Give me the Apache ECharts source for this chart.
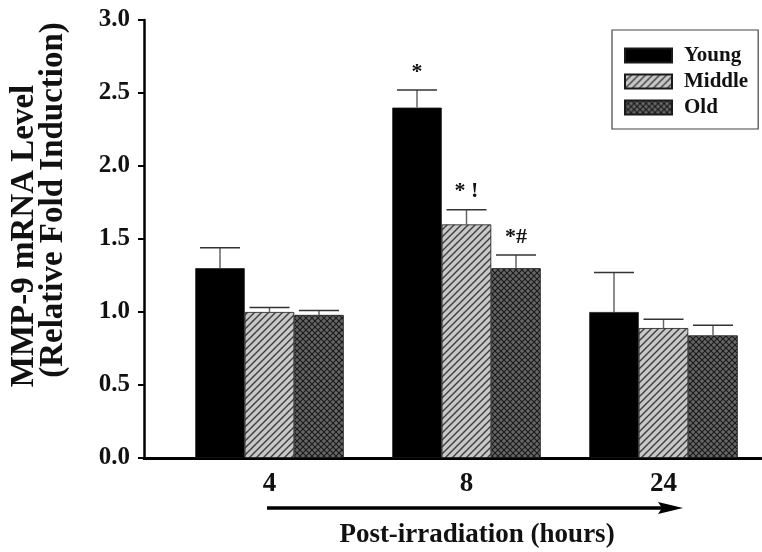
<!DOCTYPE html>
<html>
<head>
<meta charset="utf-8">
<script src="https://cdn.jsdelivr.net/npm/echarts@6/dist/echarts.min.js"></script>
<style>html,body{margin:0;padding:0;background:#fff}#c{width:762px;height:552px}</style>
</head>
<body>
<div id="c"></div>
<script>
// ---- data ----
const categories = ['4', '8', '24'];
const seriesNames = ['Young', 'Middle', 'Old'];
const young = [1.30, 2.40, 1.00];
const middle = [1.00, 1.60, 0.89];
const old = [0.98, 1.30, 0.84];
const youngErr = [0.14, 0.12, 0.27];
const middleErr = [0.03, 0.10, 0.06];
const oldErr = [0.03, 0.09, 0.07];
const youngMarks = ['', '*', ''];
const middleMarks = ['', '* !', ''];
const oldMarks = ['', '*#', ''];
const yMin = 0, yMax = 3, yStep = 0.5;
const yTitle = ['MMP-9 mRNA Level', '(Relative Fold Induction)'];
const xTitle = 'Post-irradiation (hours)';

// ---- patterns ----
function hatch() {
  const s = 7, c = document.createElement('canvas');
  c.width = s; c.height = s;
  const g = c.getContext('2d');
  g.fillStyle = '#c8c8c8'; g.fillRect(0, 0, s, s);
  g.strokeStyle = '#3c3c3c'; g.lineWidth = 1.4;
  g.beginPath();
  g.moveTo(-1, s + 1); g.lineTo(s + 1, -1);
  g.moveTo(-1, 1); g.lineTo(1, -1);
  g.moveTo(s - 1, s + 1); g.lineTo(s + 1, s - 1);
  g.stroke();
  return { image: c, repeat: 'repeat' };
}
function cross() {
  const s = 6, c = document.createElement('canvas');
  c.width = s; c.height = s;
  const g = c.getContext('2d');
  g.fillStyle = '#666666'; g.fillRect(0, 0, s, s);
  g.strokeStyle = '#1a1a1a'; g.lineWidth = 1.1;
  g.beginPath();
  g.moveTo(0, 0); g.lineTo(s, s);
  g.moveTo(0, s); g.lineTo(s, 0);
  g.stroke();
  return { image: c, repeat: 'repeat' };
}
const fills = ['#000000', hatch(), cross()];
const values = [young, middle, old];
const errs = [youngErr, middleErr, oldErr];
const marks = [youngMarks, middleMarks, oldMarks];

const FONT = 'Liberation Serif';
const BAR_W = 49.5;

const chart = echarts.init(document.getElementById('c'), null, { renderer: 'canvas' });

const series = [];
seriesNames.forEach((name, k) => {
  series.push({
    name: name, type: 'bar', xAxisIndex: 1, yAxisIndex: 1,
    barWidth: BAR_W, barGap: '0%',
    itemStyle: { color: fills[k], borderColor: '#1a1a1a', borderWidth: 0.8 },
    data: values[k]
  });
});
seriesNames.forEach((name, k) => {
  series.push({
    name: name + ' error', type: 'custom', xAxisIndex: 1, yAxisIndex: 1, z: 5,
    data: categories.map((c, i) => [i, values[k][i], errs[k][i]]),
    renderItem: function (params, api) {
      const i = api.value(0), v = api.value(1), e = api.value(2);
      const mark = marks[k][i];
      const base = api.coord([i, v]);
      const top = api.coord([i, v + e]);
      const x = base[0] + (k - 1) * BAR_W;
      const children = [
        { type: 'line', shape: { x1: x, y1: base[1], x2: x, y2: top[1] }, style: { stroke: '#666', lineWidth: 1.5 } },
        { type: 'line', shape: { x1: x - 20, y1: top[1], x2: x + 20, y2: top[1] }, style: { stroke: '#333', lineWidth: 1.5 } }
      ];
      if (mark) {
        children.push({ type: 'text', style: { text: mark, x: x, y: top[1] - 7, textAlign: 'center', textVerticalAlign: 'bottom', font: 'bold 22px "' + FONT + '"', fill: '#111' } });
      }
      return { type: 'group', children: children };
    }
  });
});

const option = {
  animation: false,
  backgroundColor: '#fff',
  grid: [
    { left: 144, top: 20, width: 617, height: 438 },
    { left: 171, top: 20, width: 594, height: 438 }
  ],
  xAxis: [
    { type: 'value', gridIndex: 0, min: 0, max: 1, axisLine: { show: true, onZero: false, lineStyle: { color: '#000', width: 3 } },
      axisTick: { show: false }, axisLabel: { show: false }, splitLine: { show: false } },
    { type: 'category', gridIndex: 1, data: categories, axisLine: { show: false }, axisTick: { show: false },
      axisLabel: { margin: 13, color: '#111', fontFamily: FONT, fontWeight: 'bold', fontSize: 27 } }
  ],
  yAxis: [
    { type: 'value', gridIndex: 0, min: yMin, max: yMax, interval: yStep,
      axisLine: { show: true, lineStyle: { color: '#000', width: 2.5 } },
      axisTick: { show: true, length: 6, lineStyle: { color: '#000', width: 2 } },
      axisLabel: { margin: 14, color: '#111', fontFamily: FONT, fontWeight: 'bold', fontSize: 25, formatter: v => v.toFixed(1) },
      splitLine: { show: false } },
    { type: 'value', gridIndex: 1, min: yMin, max: yMax, interval: yStep, show: false }
  ],
  legend: {
    orient: 'vertical', left: 612, top: 30,
    data: seriesNames.map(n => ({ name: n, icon: 'rect' })),
    itemWidth: 47, itemHeight: 14, itemGap: 5,
    padding: [15, 10, 11, 12],
    borderColor: '#444', borderWidth: 1.2,
    textStyle: { fontFamily: FONT, fontWeight: 'bold', fontSize: 21, color: '#111', padding: [0, 0, 0, 7] }
  },
  graphic: [
    { type: 'text', x: 24, y: 236, rotation: Math.PI / 2,
      style: { text: yTitle[0], x: 0, y: 0, textAlign: 'center', textVerticalAlign: 'middle', font: 'bold 33px "' + FONT + '"', fill: '#111' } },
    { type: 'text', x: 53, y: 200, rotation: Math.PI / 2,
      style: { text: yTitle[1], x: 0, y: 0, textAlign: 'center', textVerticalAlign: 'middle', font: 'bold 33px "' + FONT + '"', fill: '#111' } },
    { type: 'line', shape: { x1: 267, y1: 508, x2: 664, y2: 508 }, style: { stroke: '#000', lineWidth: 3.5 } },
    { type: 'polygon', shape: { points: [[658, 502], [683, 508], [658, 514], [662, 508]] }, style: { fill: '#000' } },
    { type: 'text', x: 477, y: 535,
      style: { text: xTitle, x: 0, y: 0, textAlign: 'center', textVerticalAlign: 'middle', font: 'bold 27px "' + FONT + '"', fill: '#111' } }
  ],
  series: series
};
chart.setOption(option);
</script>
</body>
</html>
